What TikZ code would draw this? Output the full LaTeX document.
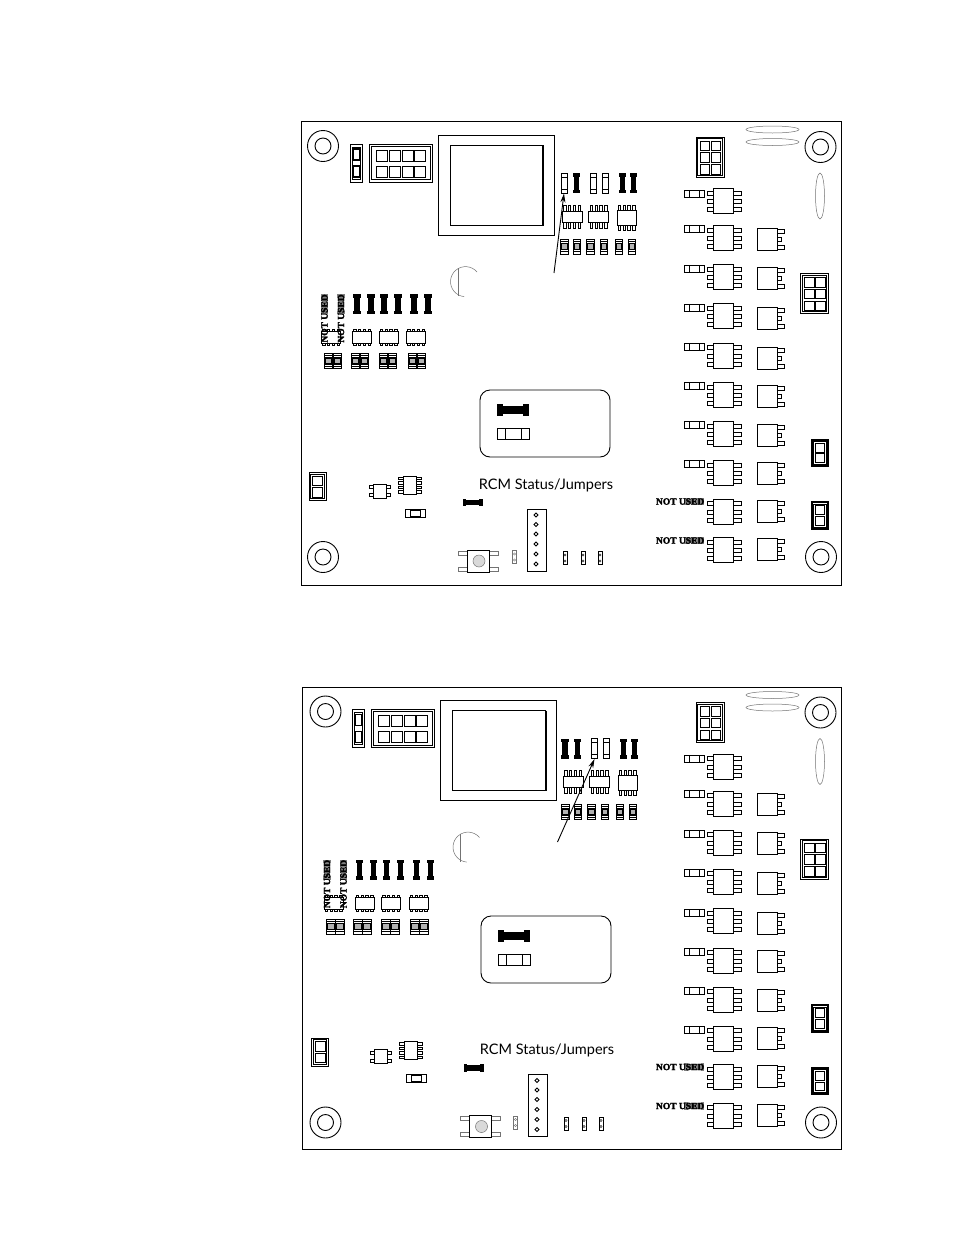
\documentclass[tikz,border=0pt]{standalone}
\usepackage{fontspec}
\usetikzlibrary{arrows.meta}
\newfontfamily\stampfont[BoldFeatures={FakeBold=2.5}]{Liberation Serif}
\newfontfamily\notefont{Lato}
\tikzset{
  part/.style={draw=black,fill=white,line width=.9pt},
  faint/.style={draw=black!55,line width=.5pt},
  pointer/.style={-{Stealth[length=9pt,width=5pt]},line width=.9pt},
  stamp/.style={font=\stampfont\bfseries\fontsize{9.5}{9.5}\selectfont,inner sep=0pt},
  mounthole/.pic={\draw[part] (0,0) circle (15.5); \draw[part] (0,0) circle (8);},
  icbody/.pic={
    \foreach \y in {-8,0.5,8.5} {
      \draw[part] (-16,\y-2) rectangle (-10,\y+2);
      \draw[part] (10,\y-2) rectangle (18,\y+2);
    }
    \draw[part] (-10,-12.5) rectangle (10,12.5);
  },
  dpak/.pic={
    \draw[part] (10,-10) rectangle (17,-6);
    \draw[part] (10,-2) rectangle (14,2);
    \draw[part] (10,6) rectangle (17,10);
    \draw[part] (-10,-11) rectangle (10,11);
  },
  hres/.pic={
    \draw[part] (-10,-3.5) rectangle (10,3.5);
    \draw (-5,-3.5)--(-5,3.5);
    \draw (5,-3.5)--(5,3.5);
  },
  vres/.pic={
    \draw[part] (-3,-10) rectangle (3,10);
    \draw (-3,-6)--(3,-6);
    \draw (-3,6)--(3,6);
    \coordinate (-foot) at (0,10.5);
  },
  bres/.pic={
    \fill (-3.7,-10) rectangle (3.7,-6.5);
    \fill (-2.7,-6.5) rectangle (2.7,6.5);
    \fill (-3.7,6.5) rectangle (3.7,10);
    \coordinate (-foot) at (0,10.5);
  },
  smdpad/.pic={
    \draw[part] (-3.7,-7.5) rectangle (3.7,7.5);
    \draw[line width=1.2pt] (-3.7,-5.2)--(3.7,-5.2);
    \draw[line width=1.2pt] (-3.7,5.2)--(3.7,5.2);
    \draw[line width=1.3pt,fill=black!30] (-2.7,-3) rectangle (2.7,3);
  },
  pics/chip/.style n args={3}{code={
    \foreach \x in {-7.2,-2.4,2.4,7.2} {
      \draw[line width=.7pt] (\x-1.2,-#2-#3) rectangle (\x+1.2,#2+#3);
    }
    \draw[part] (-#1,-#2) rectangle (#1,#2);
  }},
  pics/twopad/.style={code={
    \draw[part,line width=#1] (-8.5,-14) rectangle (8.5,14);
    \draw[line width=.7pt] (-6.7,-12.2) rectangle (6.7,12.2);
    \draw[line width=.9pt] (-5,-10.5) rectangle (5,-1);
    \draw[line width=.9pt] (-5,1) rectangle (5,10.5);
  }},
  sixpad/.pic={
    \draw[part] (-14,-20) rectangle (14,20);
    \draw[line width=.7pt] (-12.2,-18.2) rectangle (12.2,18.2);
    \foreach \y in {-16,-4.5,7.5} {
      \draw[line width=.9pt] (-10,\y) rectangle (-.5,\y+9.5);
      \draw[line width=.9pt] (1,\y) rectangle (10.5,\y+9.5);
    }
  },
  eightpad/.pic={
    \draw[part] (-31.5,-19) rectangle (31.5,19);
    \draw[line width=.7pt] (-29.5,-17) rectangle (29.5,16.5);
    \foreach \x in {-24.5,-11.5,1.5,13.5} {
      \draw[line width=.9pt] (\x,-13) rectangle (\x+11,-2);
      \draw[line width=.9pt] (\x,3) rectangle (\x+11,14);
    }
  },
  narrowpad/.pic={
    \draw[part] (-6,-19) rectangle (6,19);
    \draw[line width=.7pt] (-4,-16) rectangle (4,16);
    \draw[line width=1.6pt] (-3.3,-14) rectangle (3.3,-3);
    \draw[line width=1.6pt] (-3.3,3) rectangle (3.3,14);
  },
  tinypart/.pic={
    \draw[line width=.6pt,fill=white] (-2,-6.3) rectangle (2,6.3);
    \draw[line width=.4pt] (0,-3) circle (1.1);
    \draw[line width=.4pt] (0,3) circle (1.1);
  },
}
\newcommand{\drawboard}[5]{%
  \begin{scope}[shift={(0,#1)}]
    % driver columns
    \foreach \y in {201,238,277,316,355.5,395,434,473,511.5,550}
    \pic at (723,\y) {icbody};
    \foreach \y in {239,278,318,358,396,435,473,511,549.5}
    \pic at (767,\y) {dpak};
    \foreach \y in {193.5,228.5,268.5,307.5,347,386,425,464}
    \pic at (694,\y) {hres};
    \foreach \y in {501.5,540.5} {
      \pic[rotate=90,black!50] at (694,\y) {bres};
      \node[stamp,anchor=east] at (704.5,\y) {NOT USED};
    }
    \pic at (710,157) {sixpad};
    \pic at (814.5,293.5) {sixpad};
    \pic[scale=.94] at (820,453) {twopad=2pt};
    \pic[scale=.94] at (820,515.5) {twopad=2pt};
    \pic at (820.5,147) {mounthole};
    \pic at (821,557) {mounthole};
    \draw[faint] (772.5,129.5) ellipse (26.5 and 3.5);
    \draw[faint] (772.5,142) ellipse (26.5 and 3.5);
    \draw[faint] (820,196) ellipse (4.5 and 23);
    \begin{scope}[shift={(#2,0)}]
      \pic at (323,146) {mounthole};
      \pic at (323,557) {mounthole};
      \pic at (356,163) {narrowpad};
      \pic at (400.5,163) {eightpad};
      \draw[part] (438,135) rectangle (554,235);
      \draw[part] (450,145) rectangle (543,225);
      \draw[line width=2pt] (543,145)--(543,225);
      \draw[faint] (477,272) arc (-40:-265:15);
      \draw[faint] (458,268)--(458,296);
      % left column
      \foreach \x in {324.5,341}
      \pic[black!50] at (\x,304) {bres};
      \foreach \x in {357,371,384,398,414,428}
      \pic at (\x,304) {bres};
      \foreach \x in {362,388.5,416}
      \pic at (\x,337.5) {chip={9.5}{6}{2}};
      \pic at (331,337.5) {chip={9.5}{6}{2}};
      \foreach \x in {333,360,388,417} {
        \pic[xscale=1.2] at (\x-4.5,361) {smdpad};
        \pic[xscale=1.2] at (\x+4.5,361) {smdpad};
      }
      \foreach \x in {324.5,341}
      \node[stamp,rotate=90] at (\x,318.5) {NOT USED};
      \pic at (317.5,486.5) {twopad=.9pt};
      % push button
      \draw[faint,fill=white] (458,551) rectangle (467,555);
      \draw[faint,fill=white] (458,567) rectangle (467,571);
      \draw[faint,fill=white] (489,551) rectangle (498,555);
      \draw[faint,fill=white] (489,567) rectangle (498,571);
      \draw[part] (467,550) rectangle (489,572);
      \draw[faint,fill=black!15] (479,561) circle (6);
    \end{scope}
    \begin{scope}[shift={(#3,0)}]
      \pic (top1) at (564,183) {#5};
      \pic (top2) at (576.5,183) {bres};
      \pic (top3) at (593.5,183) {vres};
      \pic (top4) at (605.5,183) {vres};
      \pic (top5) at (622.5,183) {bres};
      \pic (top6) at (633.5,183) {bres};
      \foreach \x in {572,598.5}
      \pic at (\x,216.5) {chip={10}{5.5}{6}};
      \pic at (626.5,217.5) {chip={9.5}{7.5}{5}};
      \foreach \x in {564.5,577,590.5,604,619,632}
      \pic at (\x,246.5) {smdpad};
      % lower middle
      \node[font=\notefont\fontsize{14.5}{14.5}\selectfont,inner sep=0pt] at (546,485) {RCM Status/Jumpers};
      \draw[part] (373,484) rectangle (386,498);
      \foreach \y in {487,495} {
        \draw[part] (369,\y-1.5) rectangle (373,\y+1.5);
        \draw[part] (386,\y-1.5) rectangle (390,\y+1.5);
      }
      \foreach \y in {478.5,483,487.5,492} {
        \draw[part,line width=.7pt] (398,\y-1.2) rectangle (403,\y+1.2);
        \draw[part,line width=.7pt] (416,\y-1.2) rectangle (421,\y+1.2);
      }
      \draw[part] (403,476) rectangle (416,494);
      \draw[part] (405,509) rectangle (425,517);
      \draw[line width=.9pt] (410,510) rectangle (420,516);
      \pic[rotate=90] at (472.5,502.5) {bres};
      \draw[part] (527,509) rectangle (546,571);
      \foreach \y in {515,524.5,534,544,554,564}
      \draw[line width=.8pt] (536,\y-2)--(538,\y)--(536,\y+2)--(534,\y)--cycle;
      \pic[faint] at (514.5,557) {tinypart};
      \foreach \x in {565,583,600}
      \pic at (\x,558) {tinypart};
      % status box
      \begin{scope}[shift={(0,#4)}]
        \draw[part,rounded corners=10pt] (480,390) rectangle (610,457);
        \pic[rotate=90,scale=1.6] at (513,410) {bres};
        \pic[scale=1.6] at (513,434) {hres};
      \end{scope}
    \end{scope}
  \end{scope}
}
\begin{document}
\begin{tikzpicture}[x=1pt,y=-1pt]
  \useasboundingbox (0,0) rectangle (954,1235);
  \fill[white] (0,0) rectangle (954,1235);
  % first board
  \draw[line width=.9pt] (301,121) rectangle (841,585);
  \drawboard{0}{0}{0}{0}{vres}
  \coordinate (tailA) at (554,273);
  \draw[pointer] (tailA) -- (top1-foot);
  % second board
  \draw[line width=.9pt] (302,687) rectangle (841,1149);
  \drawboard{565.5}{2.5}{1}{-39.5}{bres}
  \coordinate (tailB) at (557.5,842);
  \draw[pointer] (tailB) -- (top3-foot);
\end{tikzpicture}
\end{document}
